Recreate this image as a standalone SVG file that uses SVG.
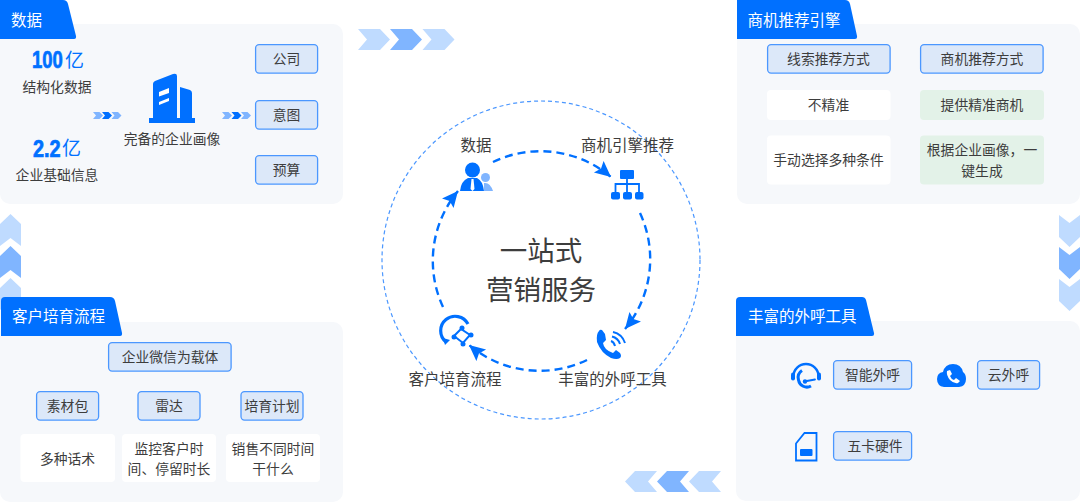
<svg xmlns="http://www.w3.org/2000/svg" width="1080" height="502" viewBox="0 0 1080 502">
<style>
text{font-family:"Noto Sans CJK SC","Liberation Sans",sans-serif;fill:#3d3d3d;font-size:13.800px;text-anchor:middle}
.panel{fill:#f6f8fb}
.tab{fill:#0070ff}
.tabt{fill:#fff;font-size:15.500px;text-anchor:start}
.btn{fill:#dce8f9;stroke:#4b97ff;stroke-width:1.300}
.wbox{fill:#fff}
.gbox{fill:#e3f2e8}
.ring{font-size:15.500px}
.big{font-size:27.500px}
.b{fill:#0070ff}
.l1{fill:#bfdbff}
.l2{fill:#80b5ff}
.num{fill:#0070ff;stroke:#0070ff;stroke-width:.7;font-family:"Liberation Sans",sans-serif;font-weight:700;font-size:24px;text-anchor:start}
.yi{fill:#0070ff;font-size:19px}
.arc{fill:none;stroke:#0070ff;stroke-width:2.400;stroke-dasharray:8 5}
.line{fill:none;stroke:#0070ff}
</style>
<defs>
<marker id="ah" markerUnits="userSpaceOnUse" markerWidth="20" markerHeight="18" refX="16" refY="7.500" orient="auto"><path d="M0 0L16 7.500L0 15L3 7.500Z" fill="#0070ff"/></marker>
<path id="chev" d="M0 0H22L32 10.500L22 21H0L9 10.500Z"/>
<path id="mini" d="M0 0H6.500L10 3.500L6.500 7H0L3 3.500Z"/>
<path id="vchev" d="M0 10L10.500 0L21 10V32L10.500 24L0 32Z"/>
</defs>
<rect width="1080" height="502" fill="#fff"/>

<g id="flow-top"><use href="#chev" x="358" y="29" class="l1"/><use href="#chev" x="390" y="29" class="l2"/><use href="#chev" x="422.500" y="29" class="l1"/></g>
<g id="flow-left"><use href="#vchev" x="0" y="214" class="l1"/><use href="#vchev" x="0" y="246" class="l2"/><use href="#vchev" x="0" y="278" class="l1"/></g>
<g id="flow-right"><use href="#vchev" transform="translate(1080 311) rotate(180)" class="l1"/><use href="#vchev" transform="translate(1080 279) rotate(180)" class="l2"/><use href="#vchev" transform="translate(1080 247) rotate(180)" class="l1"/></g>
<g id="flow-bottom"><use href="#chev" transform="translate(721 492) rotate(180)" class="l1"/><use href="#chev" transform="translate(689 492) rotate(180)" class="l2"/><use href="#chev" transform="translate(657 492) rotate(180)" class="l1"/></g>

<g id="panel-data">
<rect class="panel" x="0" y="24" width="343" height="180" rx="10"/>
<path class="tab" d="M0 0H63Q67 0 68 4L76 36Q76.500 39 74 39H0Z"/>
<text class="tabt" x="11" y="26">数据</text>
<text class="num" transform="translate(32 68) scale(.77 1)">100</text><text class="yi" x="74.500" y="66.500">亿</text>
<text x="57" y="92">结构化数据</text>
<text class="num" transform="translate(33 157) scale(.83 1)">2.2</text><text class="yi" x="71.500" y="155">亿</text>
<text x="57" y="180">企业基础信息</text>
<g id="building"><path class="b" d="M153 118V84Q153 82 155 81L173 74Q177 73 177 76V118ZM180 118V87L190 90Q192 91 192 93V118Z"/><rect class="b" x="149" y="118" width="46" height="5"/><path fill="#fff" d="M159 92L169 88V93L159 96.500ZM159 102L169 98V101L159 105Z"/></g>
<text x="172" y="144">完备的企业画像</text>
<g id="mini-a"><use href="#mini" x="93" y="112" class="l2"/><use href="#mini" x="102" y="112" class="b"/><use href="#mini" x="111.500" y="112" class="l2"/></g>
<g id="mini-b"><use href="#mini" x="222" y="112" class="l2"/><use href="#mini" x="231.500" y="112" class="b"/><use href="#mini" x="241" y="112" class="l2"/></g>
<g id="btn-company"><rect class="btn" x="255.600" y="44.600" width="62" height="28.500" rx="3.500"/><text x="286.500" y="64">公司</text></g>
<g id="btn-intent"><rect class="btn" x="255.600" y="100.600" width="62" height="28.500" rx="3.500"/><text x="286.500" y="120">意图</text></g>
<g id="btn-budget"><rect class="btn" x="255.600" y="155.600" width="62" height="28.500" rx="3.500"/><text x="286.500" y="175">预算</text></g>
</g>

<g id="panel-engine">
<rect class="panel" x="737" y="24" width="343" height="180" rx="10"/>
<path class="tab" d="M737 39V0H845Q849 0 850 4L857 36Q857.500 39 855 39Z"/>
<text class="tabt" x="747.500" y="26">商机推荐引擎</text>
<g id="btn-lead"><rect class="btn" x="767.600" y="44.600" width="122.500" height="28.500" rx="3.500"/><text x="828.500" y="64">线索推荐方式</text></g>
<g id="btn-opp"><rect class="btn" x="920.600" y="44.600" width="122.500" height="28.500" rx="3.500"/><text x="982" y="64">商机推荐方式</text></g>
<g id="box-imprecise"><rect class="wbox" x="767" y="90" width="123.500" height="30" rx="4"/><text x="828.500" y="110">不精准</text></g>
<g id="box-precise"><rect class="gbox" x="920" y="90" width="124" height="30" rx="4"/><text x="982" y="110">提供精准商机</text></g>
<g id="box-manual"><rect class="wbox" x="767" y="135.500" width="123.500" height="49" rx="4"/><text x="828.500" y="165">手动选择多种条件</text></g>
<g id="box-auto"><rect class="gbox" x="920" y="135.500" width="124" height="49" rx="4"/><text x="982" y="155">根据企业画像，一</text><text x="982" y="176">键生成</text></g>
</g>

<g id="panel-nurture">
<rect class="panel" x="0" y="322" width="343" height="180" rx="10"/>
<path class="tab" d="M1 336V301Q1 297 5 297H110Q114 297 115 301L122 333Q122.500 336 120 336Z"/>
<text class="tabt" x="12" y="322">客户培育流程</text>
<g id="btn-wechat"><rect class="btn" x="108.600" y="342.600" width="122.500" height="28.500" rx="3.500"/><text x="170" y="362">企业微信为载体</text></g>
<g id="btn-material"><rect class="btn" x="36.600" y="391.600" width="62" height="28.500" rx="3.500"/><text x="67.500" y="411">素材包</text></g>
<g id="btn-radar"><rect class="btn" x="138" y="391.600" width="62" height="28.500" rx="3.500"/><text x="169" y="411">雷达</text></g>
<g id="btn-plan"><rect class="btn" x="241" y="391.600" width="62" height="28.500" rx="3.500"/><text x="272" y="411">培育计划</text></g>
<g id="box-script"><rect class="wbox" x="20.500" y="434" width="94.500" height="48" rx="4"/><text x="67.500" y="464">多种话术</text></g>
<g id="box-monitor"><rect class="wbox" x="122" y="434" width="94" height="48" rx="4"/><text x="169" y="454">监控客户时</text><text x="169" y="474">间、停留时长</text></g>
<g id="box-sales"><rect class="wbox" x="226" y="434" width="94" height="48" rx="4"/><text x="273" y="454">销售不同时间</text><text x="273" y="474">干什么</text></g>
</g>

<g id="panel-tools">
<rect class="panel" x="736" y="321" width="344" height="180" rx="10"/>
<path class="tab" d="M736 336V301Q736 297 740 297H862Q865 297 866 300L874 333Q874.500 336 872 336Z"/>
<text class="tabt" x="748" y="322">丰富的外呼工具</text>
<g id="icon-headset"><path class="line" stroke-width="2.400" d="M793.500 376A12.500 12 0 0 1 818.500 376"/><rect class="b" x="791" y="372.500" width="4" height="8" rx="2"/><rect class="b" x="817" y="372.500" width="4" height="8" rx="2"/><path class="line" stroke-width="3" d="M802 370.500A8.500 8.500 0 0 0 798.500 380A8.500 8.500 0 0 0 811 386"/><path class="line" stroke-width="1.800" stroke-linecap="round" d="M804 381.500L815 379.500"/><circle class="b" cx="805" cy="381.500" r="2.200"/></g>
<g id="btn-ai"><rect class="btn" x="833.600" y="360.600" width="78" height="28.500" rx="3.500"/><text x="872.500" y="380">智能外呼</text></g>
<g id="icon-cloud"><path class="b" d="M944 387Q937 386 937 379Q937 373 943 372Q945 364 953 364Q961 364 963 372Q966 374 966 379Q966 386 959 387Z"/><path fill="#fff" d="M947 371L950 370L952 374L950 376Q951 379 954 380L956 378L960 381L958 383Q954 384 950 380Q946 375 947 371Z"/></g>
<g id="btn-cloud"><rect class="btn" x="977.600" y="360.600" width="62" height="28.500" rx="3.500"/><text x="1008.500" y="380">云外呼</text></g>
<g id="icon-sim"><path class="line" stroke-width="1.800" d="M796 443.500V460.500H816.500V433H804.500Z"/><rect class="b" x="800" y="449" width="12.500" height="7" rx="1"/></g>
<g id="btn-hardware"><rect class="btn" x="833.600" y="431.600" width="78" height="28.500" rx="3.500"/><text x="875" y="451">五卡硬件</text></g>
</g>

<g id="center">
<text class="big" x="541" y="261">一站式</text>
<text class="big" x="541" y="300">营销服务</text>
</g>

<g id="connectors">
<circle cx="541" cy="260" r="159" fill="none" stroke="#4b97ff" stroke-width="1.200" stroke-dasharray="4 3"/>
<path class="arc" marker-end="url(#ah)" d="M493 162A109.500 109.500 0 0 1 611 177"/>
<path class="arc" marker-end="url(#ah)" d="M640 213A109.500 109.500 0 0 1 625 329"/>
<path class="arc" marker-end="url(#ah)" d="M587 360A109.500 109.500 0 0 1 469 345"/>
<path class="arc" marker-end="url(#ah)" d="M443 307A109.500 109.500 0 0 1 458 191"/>
</g>

<g id="node-data">
<text class="ring" x="476" y="151">数据</text>
<circle class="l2" cx="485.500" cy="177.500" r="4.500"/><path class="l2" d="M484 191V183Q490 182 493 191Z"/>
<circle class="b" cx="472.500" cy="170" r="7.500"/><path class="b" d="M460 191Q461 181 468 178H477Q483 181 484 191Z"/><path fill="#fff" d="M471.500 179H473.500L474.500 189L472.500 191L470.500 189Z"/>
</g>
<g id="node-engine">
<text class="ring" x="627.500" y="151">商机引擎推荐</text>
<rect class="b" x="620" y="170" width="14" height="9" rx="1"/>
<path class="line" stroke-width="1.800" d="M627 179V193M615.500 193V184H639V193"/>
<rect class="b" x="611" y="192" width="9" height="7.500" rx="2"/><rect class="b" x="623" y="192" width="9" height="7.500" rx="2"/><rect class="b" x="635" y="192" width="8.500" height="7.500" rx="2"/>
</g>
<g id="node-tools">
<text class="ring" x="612.500" y="384.500">丰富的外呼工具</text>
<path class="b" d="M602 330L605 334L606 340L603 343Q604 350 613 353L616 350L620 353Q622 356 620 358Q617 360 611 358Q601 353 597 342Q596 334 599 331Q600 329 602 330Z"/>
<path class="line" stroke-width="2" d="M611 341Q614 342 615 346M612 336.500Q618 338 620 344M613 332Q622 334 625 343"/>
</g>
<g id="node-nurture">
<text class="ring" x="455" y="384.500">客户培育流程</text>
<path class="line" stroke-width="3.200" d="M446 342A14.500 14.500 0 1 1 468 324"/><path class="b" d="M443 338L450 340L445 345Z"/>
<path class="line" stroke-width="2" d="M461 329L454 336L463 343L470 335Z"/><circle class="b" cx="462" cy="328" r="2.500"/><circle class="b" cx="471" cy="335" r="2.500"/><circle class="b" cx="454" cy="337" r="2.500"/><circle class="b" cx="463" cy="344" r="2.500"/>
</g>
</svg>
